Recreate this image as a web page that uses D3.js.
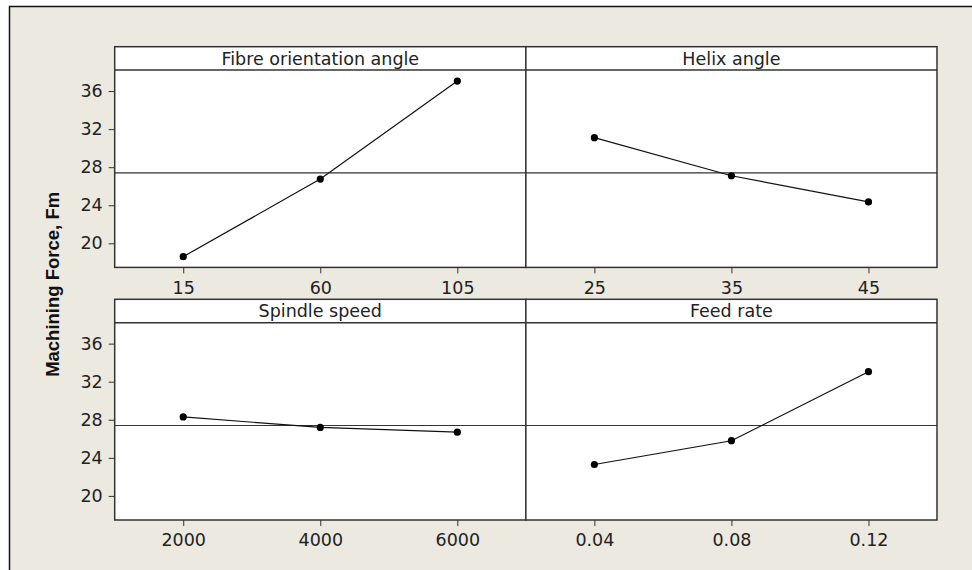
<!DOCTYPE html>
<html>
<head>
<meta charset="utf-8">
<script src="https://cdn.jsdelivr.net/npm/d3@7"></script>
<style>
  body { margin: 0; background: #fff; }
  svg { display: block; }
  .tick text { font-family: "DejaVu Sans", Verdana, sans-serif; }
</style>
</head>
<body>
<div id="chart"></div>
<script>
// main effects data (mean of Fm at each level)
const factors = ['Fibre orientation angle', 'Helix angle', 'Spindle speed', 'Feed rate']
const fibreLevels = ['15', '60', '105']
const fibreMeans = [18.6, 26.75, 37.05]
const helixLevels = ['25', '35', '45']
const helixMeans = [31.1, 27.1, 24.35]
const spindleLevels = ['2000', '4000', '6000']
const spindleMeans = [28.3, 27.2, 26.7]
const feedLevels = ['0.04', '0.08', '0.12']
const feedMeans = [23.3, 25.8, 33.05]
const yTicks = [20, 24, 28, 32, 36]
const grandMean = 27.4

const levels = [fibreLevels, helixLevels, spindleLevels, feedLevels]
const means = [fibreMeans, helixMeans, spindleMeans, feedMeans]

const width = 972
const height = 570

const margin = { left: 114.7, right: 35, top: 46.7 }
const panelW = (width - margin.left - margin.right) / 2
const stripH = 23.4
const plotH = 197.3
const rowStep = 252.6

const font = '"DejaVu Sans", Verdana, sans-serif'
const ink = '#222'

const svg = d3.select('#chart').append('svg')
  .attr('width', width)
  .attr('height', height)

// window background
svg.append('rect')
  .attr('x', 9).attr('y', 6)
  .attr('width', width - 9).attr('height', height - 6)
  .attr('fill', '#ece9e0')
svg.append('path')
  .attr('d', `M9.5,${height}V6.5H${width}`)
  .attr('fill', 'none')
  .attr('stroke', '#111')
  .attr('stroke-width', 1.5)

const y = d3.scaleLinear()
  .domain([17.47, 38.2])
  .range([plotH, 0])

factors.forEach((name, i) => {
  const col = i % 2
  const row = Math.floor(i / 2)
  const g = svg.append('g')
    .attr('transform', `translate(${margin.left + col * panelW}, ${margin.top + row * rowStep})`)

  const x = d3.scalePoint()
    .domain(levels[i])
    .range([0, panelW])
    .padding(0.5)

  // strip
  g.append('rect')
    .attr('width', panelW).attr('height', stripH)
    .attr('fill', '#fff')

  g.append('text')
    .attr('x', panelW / 2)
    .attr('y', stripH / 2)
    .attr('dy', '0.36em')
    .attr('text-anchor', 'middle')
    .attr('font-family', font)
    .attr('font-size', '17.5px')
    .attr('fill', ink)
    .text(name)

  const plot = g.append('g')
    .attr('transform', `translate(0, ${stripH})`)

  plot.append('rect')
    .attr('width', panelW).attr('height', plotH)
    .attr('fill', '#fff')

  // reference line at overall mean
  plot.append('line')
    .attr('x1', 0).attr('x2', panelW)
    .attr('y1', y(grandMean)).attr('y2', y(grandMean))
    .attr('stroke', '#333')
    .attr('stroke-width', 1.2)

  // x axis
  const xAxis = plot.append('g')
    .attr('transform', `translate(0, ${plotH})`)
    .call(d3.axisBottom(x).tickSize(6).tickPadding(8))
  xAxis.select('.domain').remove()
  xAxis.selectAll('line').attr('stroke', '#333')
  xAxis.selectAll('text')
    .attr('font-size', '17.5px')
    .attr('fill', ink)

  // y axis only on left column
  if (col === 0) {
    const yAxis = plot.append('g')
      .call(d3.axisLeft(y).tickValues(yTicks).tickSize(6).tickPadding(6))
    yAxis.select('.domain').remove()
    yAxis.selectAll('line').attr('stroke', '#333')
    yAxis.selectAll('text')
      .attr('font-size', '17.5px')
      .attr('fill', ink)
  }

  const pts = levels[i].map((l, j) => ({ level: l, value: means[i][j] }))

  plot.append('path')
    .datum(pts)
    .attr('fill', 'none')
    .attr('stroke', '#111')
    .attr('stroke-width', 1.2)
    .attr('d', d3.line().x(d => x(d.level)).y(d => y(d.value)))

  plot.selectAll('circle')
    .data(pts)
    .enter().append('circle')
    .attr('cx', d => x(d.level))
    .attr('cy', d => y(d.value))
    .attr('r', 3.6)
    .attr('fill', '#000')

  // panel frame
  g.append('line')
    .attr('x1', 0).attr('x2', panelW)
    .attr('y1', stripH).attr('y2', stripH)
    .attr('stroke', '#333').attr('stroke-width', 1.5)
  g.append('rect')
    .attr('width', panelW).attr('height', stripH + plotH)
    .attr('fill', 'none')
    .attr('stroke', '#333').attr('stroke-width', 1.5)
})

// y axis label
svg.append('text')
  .attr('transform', `translate(59, ${margin.top + (rowStep + stripH + plotH) / 2 + 1}) rotate(-90)`)
  .attr('text-anchor', 'middle')
  .attr('font-family', '"Liberation Sans", Arial, sans-serif')
  .attr('font-weight', 'bold')
  .attr('font-size', '18.5px')
  .attr('fill', '#111')
  .text('Machining Force, Fm')
</script>
</body>
</html>
